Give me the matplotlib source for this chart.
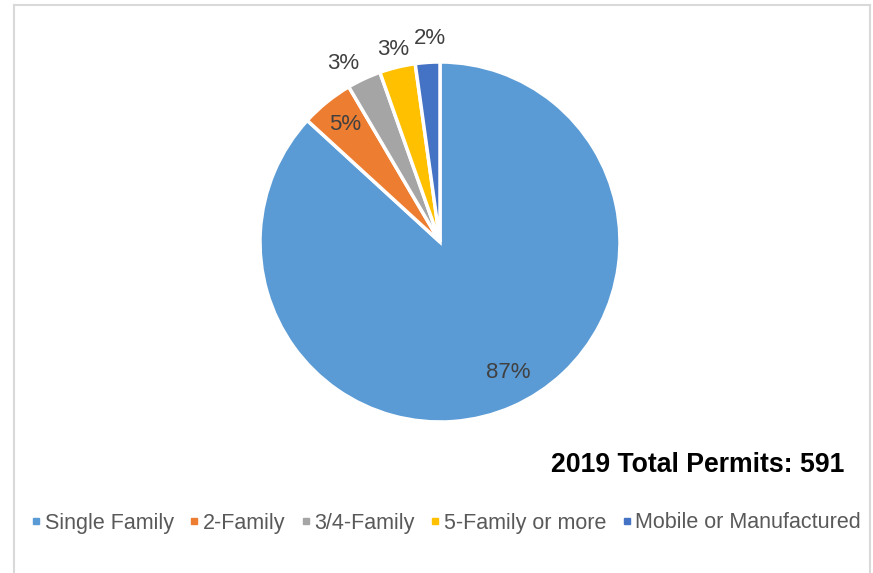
import numpy as np
import matplotlib.pyplot as plt
from matplotlib.lines import Line2D

plt.rcParams['font.family'] = ['Liberation Sans', 'DejaVu Sans']

categories = ['Single Family', '2-Family', '3/4-Family', '5-Family or more', 'Mobile or Manufactured']
permits = [513, 28, 18, 19, 13]
colors = ['#5B9BD5', '#ED7D31', '#A5A5A5', '#FFC000', '#4472C4']
pct_labels = ['87%', '5%', '3%', '3%', '2%']
title_text = '2019 Total Permits: 591'

# label placement (radius in pie units, angular nudge in degrees)
label_radius = [0.82, 0.84, 1.13, 1.10, 1.13]
label_shift = [4, 0, 3.5, 0, -1]

W, H = 873, 573
fig = plt.figure(figsize=(W / 100, H / 100), dpi=100)

# pie centre ~ (440, 242) px, radius ~ 180 px
cx, cy, r = 440, 242, 180
ax = fig.add_axes([(cx - r) / W, (H - cy - r) / H, 2 * r / W, 2 * r / H])
wedges, _ = ax.pie(permits, colors=colors, startangle=90, counterclock=False,
                   wedgeprops=dict(edgecolor='white', linewidth=2.5))
ax.set_xlim(-1, 1)
ax.set_ylim(-1, 1)
ax.set_aspect('equal')

for w, lab, rr, sh in zip(wedges, pct_labels, label_radius, label_shift):
    mid = np.deg2rad((w.theta1 + w.theta2) / 2 + sh)
    ax.text(rr * np.cos(mid), rr * np.sin(mid), lab, ha='center', va='center',
            fontsize=16, color='#404040', clip_on=False)

fig.text(844 / W, 1 - 465 / H, title_text, ha='right', va='center',
         fontsize=19.2, fontweight='bold', color='black')

handles = [Line2D([0], [0], marker='s', linestyle='none', markersize=5,
                  markerfacecolor=c, markeredgecolor=c) for c in colors]
fig.legend(handles, categories, loc='center', bbox_to_anchor=(445 / W, 1 - 523 / H),
           ncol=5, frameon=False, fontsize=15.5, labelcolor='#595959',
           handletextpad=0.05, columnspacing=0.6, handlelength=0.7)

# light frame around the chart area (open at the bottom)
fc = '#D9D9D9'
fig.add_artist(Line2D([14 / W, 14 / W], [0, 1 - 5 / H], color=fc, lw=1.5))
fig.add_artist(Line2D([14 / W, 870 / W], [1 - 5 / H, 1 - 5 / H], color=fc, lw=1.5))
fig.add_artist(Line2D([870 / W, 870 / W], [0, 1 - 5 / H], color=fc, lw=1.5))

fig.savefig('out.png', dpi=100, facecolor='white')
